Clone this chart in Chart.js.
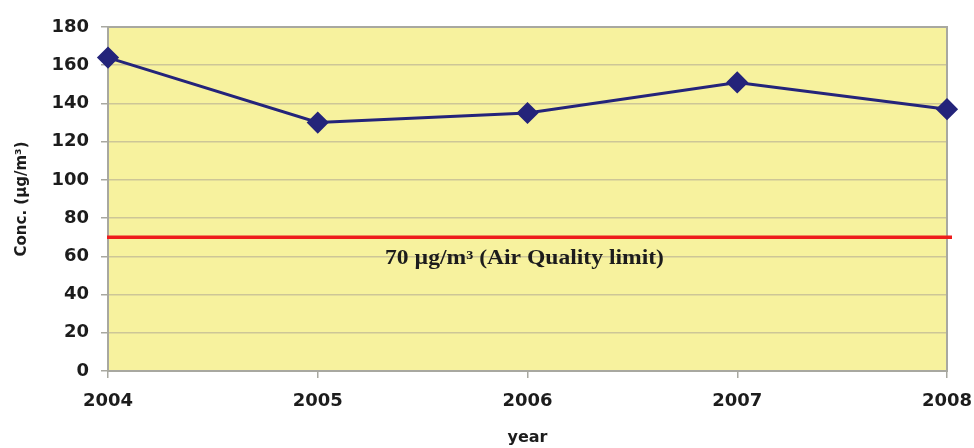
<!DOCTYPE html>
<html>
<head>
<meta charset="utf-8">
<style>
  html, body { margin: 0; padding: 0; background: #ffffff; }
  #wrap { width: 974px; height: 448px; position: relative; }
</style>
<script src="https://cdn.jsdelivr.net/npm/chart.js@4/dist/chart.umd.min.js"></script>
</head>
<body>
<div id="wrap"><canvas id="chart" width="974" height="448"></canvas></div>
<script>
// Annual mean concentration
const years = ['2004', '2005', '2006', '2007', '2008'];
const concentration = [164, 130, 135, 151, 137];
const yTicks = [0, 20, 40, 60, 80, 100, 120, 140, 160, 180];
const limitValue = 70;
const limitLabel = '70 µg/m³ (Air Quality limit)';

const PLOT_BG = '#f7f29e';
const GRID = '#cdc697';
const FRAME = '#a8a8a0';
const INK = '#1c1c1c';
const TICK_FONT = { family: '"DejaVu Sans", sans-serif', weight: 'bold', size: 18 };

// Yellow plot background with a grey frame
const plotBackground = {
  id: 'plotBackground',
  beforeDraw(chart) {
    const { ctx, chartArea: a } = chart;
    ctx.save();
    ctx.fillStyle = PLOT_BG;
    ctx.fillRect(a.left, a.top, a.right - a.left, a.bottom - a.top);
    ctx.restore();
  },
  beforeDatasetsDraw(chart) {
    const { ctx, chartArea: a } = chart;
    ctx.save();
    ctx.strokeStyle = FRAME;
    ctx.lineWidth = 2;
    ctx.strokeRect(a.left, a.top, a.right - a.left, a.bottom - a.top);
    ctx.restore();
  }
};

// Horizontal limit line with its caption
const limitLine = {
  id: 'limitLine',
  beforeDatasetsDraw(chart) {
    const { ctx, chartArea: a, scales } = chart;
    const y = scales.y.getPixelForValue(limitValue);
    ctx.save();
    ctx.strokeStyle = '#ee1c1c';
    ctx.lineWidth = 3.5;
    ctx.beginPath();
    ctx.moveTo(a.left - 1, y);
    ctx.lineTo(a.right + 5, y);
    ctx.stroke();
    ctx.fillStyle = INK;
    ctx.font = 'bold 20px "Liberation Serif", "Times New Roman", serif';
    ctx.textAlign = 'center';
    ctx.textBaseline = 'middle';
    ctx.translate((a.left + a.right) / 2 - 3, y + 22);
    ctx.scale(1.18, 1);
    ctx.fillText(limitLabel, 0, 0);
    ctx.restore();
  }
};

new Chart(document.getElementById('chart'), {
  type: 'line',
  data: {
    labels: years,
    datasets: [{
      data: concentration,
      borderColor: '#24247a',
      backgroundColor: '#24247a',
      borderWidth: 3,
      pointStyle: 'rectRot',
      pointRadius: 9,
      pointHoverRadius: 9,
      tension: 0,
      clip: false
    }]
  },
  options: {
    responsive: false,
    animation: false,
    events: [],
    layout: { padding: { top: 27, right: 27, left: 0, bottom: 0 } },
    plugins: {
      legend: { display: false },
      tooltip: { enabled: false }
    },
    scales: {
      x: {
        offset: false,
        afterFit(scale) {
          scale.height = 77;
          scale.paddingLeft = 0;
          scale.paddingRight = 0;
        },
        grid: {
          drawOnChartArea: false,
          drawTicks: true,
          tickLength: 7,
          color: FRAME,
          lineWidth: 1.5
        },
        border: { display: false },
        ticks: {
          color: INK,
          padding: 13,
          maxRotation: 0,
          font: TICK_FONT
        },
        title: {
          display: true,
          text: 'year',
          color: INK,
          padding: { top: 0, bottom: 1 },
          font: { family: '"DejaVu Sans", sans-serif', weight: 'bold', size: 16 }
        }
      },
      y: {
        min: 0,
        max: 180,
        afterFit(scale) { scale.width = 108; },
        afterBuildTicks(scale) { scale.ticks = yTicks.map(v => ({ value: v })); },
        grid: {
          color: GRID,
          lineWidth: 1.5,
          tickLength: 7,
          tickColor: FRAME
        },
        border: { display: false },
        ticks: {
          color: INK,
          padding: 12,
          font: TICK_FONT
        },
        title: {
          display: true,
          text: 'Conc. (µg/m³)',
          color: INK,
          padding: { top: 13, bottom: 0 },
          font: { family: '"DejaVu Sans", sans-serif', weight: 'bold', size: 15 }
        }
      }
    }
  },
  plugins: [plotBackground, limitLine]
});
</script>
</body>
</html>
